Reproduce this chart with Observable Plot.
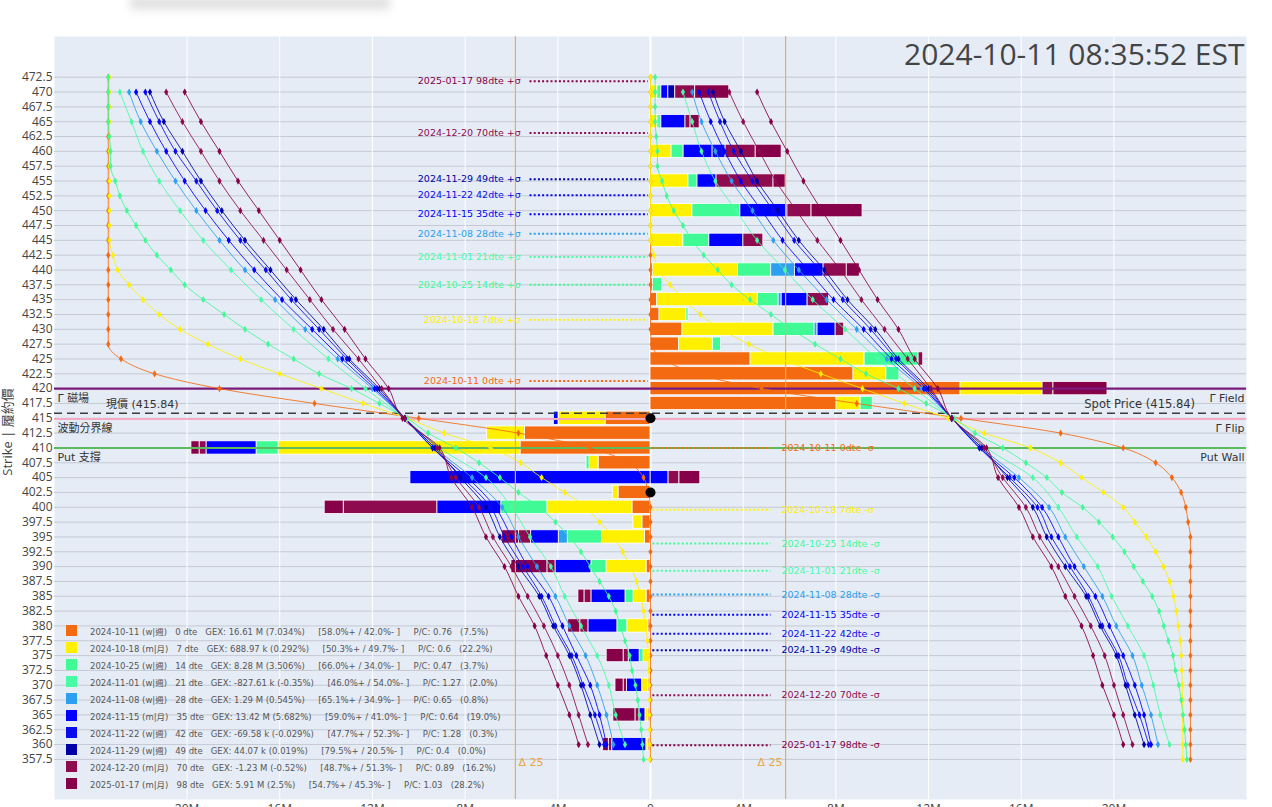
<!DOCTYPE html>
<html>
<head>
<meta charset="utf-8">
<script src="https://cdn.jsdelivr.net/npm/d3@7"></script>
<script src="https://cdn.jsdelivr.net/npm/@observablehq/plot@0.6"></script>
<style>
html, body { margin:0; padding:0; background:#fff; overflow:hidden; }
#wrap { position:relative; width:1272px; height:807px; overflow:hidden; }
#chart { position:absolute; left:0; top:0; }
#legend { position:absolute; left:66px; top:622px; font-family:"DejaVu Sans","Noto Sans CJK TC",sans-serif; font-size:8.5px; color:#555; }
#legend .row { height:17px; display:flex; align-items:center; white-space:pre; }
#legend .sw { width:11px; height:11px; margin-right:13px; flex:none; }
#ytitle { position:absolute; left:6px; top:432px; transform:translate(-50%,-50%) rotate(-90deg); font-family:"Open Sans","Noto Sans CJK TC",sans-serif; font-size:13px; color:#444; white-space:nowrap; }
#blur { position:absolute; left:130px; top:-3px; width:260px; height:12px; background:#b5b5b5; filter:blur(5px); opacity:.45; }
</style>
</head>
<body>
<div id="wrap">
  <div id="chart"></div>
  <div id="blur"></div>
  <div id="ytitle">Strike | 履約價</div>
  <div id="legend"></div>
</div>
<script>
// ---------- DATA ----------
const titleText = "2024-10-11 08:35:52 EST";
const expiryDates = ["2024-10-11","2024-10-18","2024-10-25","2024-11-01","2024-11-08","2024-11-15","2024-11-22","2024-11-29","2024-12-20","2025-01-17"];
const expiryDte = [0,7,14,21,28,35,42,49,70,98];
const expiryType = ["w|週","m|月","w|週","w|週","w|週","m|月","w|週","w|週","m|月","m|月"];
const expiryColors = ["#F46A10","#FFF000","#40FA96","#48FCA6","#2C9FF0","#0000FF","#0A0AEE","#0000A8","#8E0B50","#86004A"];
const legendGex = ["16.61 M (7.034%)","688.97 k (0.292%)","8.28 M (3.506%)","-827.61 k (-0.35%)","1.29 M (0.545%)","13.42 M (5.682%)","-69.58 k (-0.029%)","44.07 k (0.019%)","-1.23 M (-0.52%)","5.91 M (2.5%)"];
const legendSplit = ["[58.0%+ / 42.0%- ]","[50.3%+ / 49.7%- ]","[66.0%+ / 34.0%- ]","[46.0%+ / 54.0%- ]","[65.1%+ / 34.9%- ]","[59.0%+ / 41.0%- ]","[47.7%+ / 52.3%- ]","[79.5%+ / 20.5%- ]","[48.7%+ / 51.3%- ]","[54.7%+ / 45.3%- ]"];
const legendPC = ["0.76","0.6","0.47","1.27","0.65","0.64","1.28","0.4","0.89","1.03"];
const legendShare = ["(7.5%)","(22.2%)","(3.7%)","(2.0%)","(0.8%)","(19.0%)","(0.3%)","(0.0%)","(16.2%)","(28.2%)"];

const strikeTicks = [472.5,470,467.5,465,462.5,460,457.5,455,452.5,450,447.5,445,442.5,440,437.5,435,432.5,430,427.5,425,422.5,420,417.5,415,412.5,410,407.5,405,402.5,400,397.5,395,392.5,390,387.5,385,382.5,380,377.5,375,372.5,370,367.5,365,362.5,360,357.5];
const xTicks = [-20,-16,-12,-8,-4,0,4,8,12,16,20]; // millions

// key levels
const gammaField = 420;
const spotPrice = 415.84;
const gammaFlip = 414.9;
const putWall = 410;
const delta25 = [-5.83, 5.83];
const markerStrikes = [415, 402.5];

// GEX bars per strike (millions) : calls (+) and puts (-) for each expiry
const barStrikes = [470,465,460,455,450,445,440,437.5,435,432.5,430,427.5,425,422.5,420,417.5,415,412.5,410,407.5,405,402.5,400,397.5,395,390,385,380,375,370,365,360];
const call0  = [0,0,0,0,0,0,0.1,0.1,0.28,0.39,1.38,1.23,4.32,8.76,13.38,8.03, 0,0,0,0,0,0,0,0,0,0,0,0,0,0,0,0];
const call7  = [0.3,0.3,0.91,1.64,1.81,1.42,3.68,0,4.35,1.16,3.93,1.46,4.92,1.42,3.54,1.04, 0,0,0,0,0,0,0,0,0,0,0,0,0,0,0,0];
const call14 = [0.17,0,0.52,0.39,2.07,1.12,1.43,0.4,0.9,0.09,1.77,0.35,2.33,0.56,0,0.52, 0,0,0,0,0,0,0,0,0,0,0,0,0,0,0,0];
const call21 = [0,0.17,0,0,0,0,0,0,0,0,0,0,0,0,0,0, 0,0,0,0,0,0,0,0,0,0,0,0,0,0,0,0];
const call28 = [0,0,0,0,0,0,1.03,0,0.13,0,0.13,0,0,0,0,0, 0,0,0,0,0,0,0,0,0,0,0,0,0,0,0,0];
const call35 = [0.3,1.04,1.25,0.82,2.03,1.47,1.23,0,1.12,0,0.78,0,0,0,0,0, 0,0,0,0,0.78,0,0,0,0,0,0,0,0,0,0,0];
const call42 = [0,0,0.56,0,0,0,0,0,0,0,0,0,0,0,0,0, 0,0,0,0,0,0,0,0,0,0,0,0,0,0,0,0];
const call49 = [0.3,0,0,0,0,0,0,0,0,0,0,0,0,0,0,0, 0,0,0,0,0,0,0,0,0,0,0,0,0,0,0,0];
const call70 = [0.86,0.22,1.3,2.46,1.04,0.86,1.0,0,0.93,0,0.37,0,0.2,0,0.47,0, 0,0,0,0,0.47,0,0,0,0,0,0,0,0,0,0,0];
const call98 = [1.47,0.39,1.12,0.52,2.2,0,0.56,0,0,0,0,0,0,0,2.33,0, 0,0,0,0,0.9,0,0,0,0,0,0,0,0,0,0,0];
const put0  = [0,0,0,0,0,0,0,0,0,0,0,0,0,0,0,0, -1.94,-5.42,-5.61,-2.24,0,-1.38,-0.78,-0.35,-0.24,-0.17,-0.17,-0.09,-0.04,-0.09,-0.09,-0.09];
const put7  = [0,0,0,0,0,0,0,0,0,0,0,0,0,0,0,0, -2.03,-1.64,-10.44,-0.39,0,-0.24,-3.67,-0.39,-1.86,-1.73,-0.56,-0.91,-0.26,-0.27,-0.13,-0.09];
const put14 = [0,0,0,0,0,0,0,0,0,0,0,0,0,0,0,0, 0,0,-0.95,-0.13,0,0,-1.99,0,-1.47,-0.65,-0.35,-0.43,-0.17,0,0,0];
const put21 = [0,0,0,0,0,0,0,0,0,0,0,0,0,0,0,0, 0,0,0,0,0,0,0,0,0,0,0,0,0,0,0,0];
const put28 = [0,0,0,0,0,0,0,0,0,0,0,0,0,0,0,0, 0,0,0,0,0,0,0,0,-0.39,0,0,0,0,0,0,0];
const put35 = [0,0,0,0,0,0,0,0,0,0,0,0,0,0,0,0, -0.2,0,-2.16,0,-10.36,0,-2.76,0,-1.19,-1.55,-1.47,-1.25,-0.47,-0.65,-0.26,-1.47];
const put42 = [0,0,0,0,0,0,0,0,0,0,0,0,0,0,0,0, 0,0,0,0,0,0,0,0,0,0,0,0,0,0,0,0];
const put49 = [0,0,0,0,0,0,0,0,0,0,0,0,0,0,0,0, 0,0,0,0,0,0,0,0,0,0,0,0,0,0,0,0];
const put70 = [0,0,0,0,0,0,0,0,0,0,0,0,0,0,0,0, 0,0,-0.3,0,0,0,-4.04,0,-0.52,-0.35,-0.3,-0.35,-0.22,-0.15,-0.17,-0.15];
const put98 = [0,0,0,0,0,0,0,0,0,0,0,0,0,0,0,0, 0,0,-0.35,0,0,0,-0.82,0,-0.73,-1.55,-0.26,-0.52,-0.73,-0.35,-0.95,-0.24];

// exposure profile curves (millions) : left (put side) and right (call side)
const strikes25 = strikeTicks;
const strikes5 = [470,465,460,455,450,445,440,435,430,425,420,415,410,405,400,395,390,385,380,375,370,365,360];
const curve0L = [-23.4,-23.4,-23.4,-23.4,-23.4,-23.4,-23.4,-23.4,-23.4,-23.4, -23.4,-23.4,-23.4,-23.4,-23.4,-23.4,-23.4,-23.4,-23.4,-22.85, -21.4,-18.6,-14.5,-10.0,-5.7,-2.6,-0.95,-0.3,-0.1,0, 0,0,0,0,0,0,0,0,0,0, 0,0,0,0,0,0,0];
const curve0R = [0,0,0,0,0,0,0,0,0,0, 0,0,0,0,0,0,0,0,0.05,0.55, 2.0,4.8,8.9,13.4,17.7,20.4,21.8,22.5,22.9,23.1, 23.2,23.3,23.3,23.3,23.3,23.3,23.3,23.3,23.3,23.3, 23.3,23.3,23.3,23.3,23.3,23.3,23.3];
const curve7L = [-23.35,-23.35,-23.35,-23.35,-23.35,-23.35,-23.35,-23.35,-23.35,-23.35, -23.35,-23.35,-23.2,-23.0,-22.5,-21.9,-21.2,-20.3,-19.1,-17.7, -16.0,-14.2,-12.4,-10.5,-8.9,-6.9,-5.6,-4.7,-3.7,-2.8, -2.2,-1.6,-1.2,-0.86,-0.6,-0.43,-0.3,-0.22,-0.13,-0.09, -0.07,-0.05,-0.04,-0.04,-0.03,-0.03,-0.03];
const curve7R = [0,0,0,0,0,0,0,0,0,0, 0,0,0.15,0.35,0.85,1.45,2.15,3.05,4.25,5.65, 7.35,9.15,10.95,12.85,14.4,16.4,17.7,18.6,19.55,20.4, 20.9,21.4,21.8,22.14,22.4,22.57,22.7,22.78,22.87,22.91, 22.93,22.95,22.96,22.96,22.97,22.97,22.97];
const curve14L = [-23.4,-23.4,-23.4,-23.4,-23.35,-23.3,-23.3,-23.1,-22.9,-22.6, -22.2,-21.8,-21.3,-20.7,-20.1,-19.3,-18.4,-17.5,-16.5,-15.4, -14.3,-12.9,-11.7,-10.5,-9.6,-8.4,-7.4,-6.5,-5.7,-4.8, -4.1,-3.5,-3.0,-2.6,-2.2,-1.8,-1.5,-1.3,-1.1,-0.9, -0.8,-0.65,-0.55,-0.47,-0.4,-0.35,-0.3];
const curve14R = [0.2,0.2,0.2,0.2,0.25,0.3,0.3,0.5,0.7,1.0, 1.4,1.8,2.3,2.9,3.5,4.3,5.2,6.1,7.1,8.2, 9.3,10.7,11.9,13.1,14.0,15.2,16.2,17.1,17.75,18.65, 19.35,19.95,20.45,20.85,21.25,21.65,21.95,22.15,22.35,22.55, 22.65,22.8,22.9,22.98,23.05,23.1,23.15];
const curve21L = [-22.9,-22.4,-21.9,-21.2,-20.3,-19.3,-18.1,-16.8,-15.4,-13.9,-12.3,-10.6,-9.1,-7.1,-6.0,-5.2,-4.3,-3.7,-3.0,-2.3,-1.8,-1.5,-1.1];
const curve21R = [1.4,1.8,2.2,2.8,3.7,4.6,5.8,7.0,8.4,9.8,11.4,13.0,14.5,16.5,17.6,18.4,19.3,19.9,20.6,21.3,21.7,22.0,22.4];
const curve28L = [-22.5,-22.0,-21.3,-20.5,-19.6,-18.6,-17.5,-16.2,-14.9,-13.5,-12.0,-10.6,-9.3,-7.7,-6.4,-5.7,-4.9,-4.1,-3.5,-2.8,-2.3,-1.9,-1.6];
const curve28R = [1.8,2.2,2.8,3.5,4.4,5.3,6.4,7.6,8.9,10.2,11.7,13.0,14.3,15.9,17.2,17.9,18.7,19.5,20.1,20.8,21.2,21.6,21.9];
const curve35L = [-22.2,-21.6,-20.9,-20.1,-19.2,-18.2,-17.1,-15.9,-14.6,-13.3,-11.9,-10.6,-9.4,-7.9,-6.7,-6.0,-5.3,-4.4,-3.8,-3.2,-2.6,-2.2,-1.9];
const curve35R = [2.1,2.6,3.2,3.9,4.8,5.7,6.8,7.9,9.2,10.4,11.8,13.0,14.2,15.7,16.9,17.6,18.3,19.2,19.8,20.4,20.9,21.3,21.6];
const curve42L = [-21.8,-21.2,-20.5,-19.6,-18.7,-17.7,-16.6,-15.5,-14.3,-13.1,-11.8,-10.6,-9.4,-8.1,-6.9,-6.3,-5.5,-4.7,-4.1,-3.4,-2.9,-2.4,-2.0];
const curve42R = [2.5,3.0,3.6,4.4,5.3,6.2,7.3,8.3,9.5,10.6,11.9,13.0,14.2,15.5,16.7,17.3,18.1,18.9,19.5,20.2,20.6,21.1,21.5];
const curve49L = [-21.6,-21.0,-20.2,-19.4,-18.5,-17.5,-16.4,-15.3,-14.1,-13.0,-11.7,-10.6,-9.3,-8.2,-7.1,-6.5,-5.7,-4.8,-4.2,-3.5,-3.0,-2.6,-2.2];
const curve49R = [2.7,3.2,3.9,4.6,5.5,6.4,7.5,8.5,9.7,10.7,12.0,13.0,14.3,15.4,16.5,17.1,17.9,18.8,19.4,20.1,20.5,20.9,21.3];
const curve70L = [-20.9,-20.2,-19.4,-18.6,-17.7,-16.7,-15.7,-14.7,-13.7,-12.6,-11.6,-10.6,-9.2,-8.4,-7.4,-6.8,-6.0,-5.3,-4.6,-4.0,-3.5,-3.1,-2.7];
const curve70R = [3.4,4.0,4.7,5.4,6.3,7.2,8.2,9.1,10.1,11.1,12.1,13.0,14.4,15.2,16.2,16.8,17.6,18.3,19.0,19.6,20.0,20.4,20.8];
const curve98L = [-20.1,-19.4,-18.6,-17.8,-16.9,-16.0,-15.1,-14.2,-13.2,-12.3,-11.3,-10.7,-9.1,-8.6,-7.7,-7.1,-6.3,-5.7,-5.0,-4.5,-4.0,-3.5,-3.1];
const curve98R = [4.6,5.2,5.9,6.6,7.4,8.2,9.0,9.8,10.7,11.4,12.4,13.0,14.5,15.0,15.9,16.5,17.3,17.9,18.6,19.1,19.5,20.0,20.4];

// ±1σ expected-move strikes per expiry
const sigmaUp   = [421.3,431.6,437.5,442.2,446.1,449.4,452.6,455.3,463.1,471.8];
const sigmaDown = [410.0,399.6,393.9,389.3,385.3,381.9,378.7,375.9,368.3,359.9];

// ---------- BUILD ----------
const callGex = [call0,call7,call14,call21,call28,call35,call42,call49,call70,call98];
const putGex  = [put0,put7,put14,put21,put28,put35,put42,put49,put70,put98];
const curveL = [curve0L,curve7L,curve14L,curve21L,curve28L,curve35L,curve42L,curve49L,curve70L,curve98L];
const curveR = [curve0R,curve7R,curve14R,curve21R,curve28R,curve35R,curve42R,curve49R,curve70R,curve98R];
const idx = d3.range(expiryDates.length);
const halfBar = 1.12;

const segs = [];
barStrikes.forEach((s, i) => {
  let pos = 0, neg = 0;
  idx.forEach(k => {
    const c = callGex[k][i];
    if (c > 0) { segs.push({s, k, x1: pos, x2: pos + c}); pos += c; }
    const p = putGex[k][i];
    if (p < 0) { segs.push({s, k, x1: neg, x2: neg + p}); neg += p; }
  });
});

const curvePts = [];
idx.forEach(k => {
  const ss = curveL[k].length === strikes25.length ? strikes25 : strikes5;
  ss.forEach((s, i) => {
    curvePts.push({k, side: "L", s, x: curveL[k][i]});
    curvePts.push({k, side: "R", s, x: curveR[k][i]});
  });
});

const uiFont = "DejaVu Sans, Noto Sans CJK TC, sans-serif";
const col = k => expiryColors[k];

const chart = Plot.plot({
  width: 1272, height: 824,
  marginTop: 36, marginRight: 26, marginBottom: 25, marginLeft: 54,
  style: {fontFamily: "Open Sans, sans-serif", fontSize: "12px", color: "#444", background: "transparent"},
  x: {domain: [-25.72, 25.72]},
  y: {domain: [350.74, 479.36]},
  color: {type: "identity"},
  marks: [
    Plot.frame({fill: "#E5ECF6", stroke: "none"}),
    Plot.ruleY(strikeTicks, {stroke: "#c5c9d3", strokeWidth: 1}),
    Plot.ruleX(xTicks, {stroke: "#ffffff", strokeWidth: 1}),
    Plot.ruleX([0], {stroke: "#ffffff", strokeWidth: 2}),
    Plot.rect(segs, {x1: "x1", x2: "x2", y1: d => d.s - halfBar, y2: d => d.s + halfBar,
      fill: d => col(d.k), stroke: "#ffffff", strokeWidth: 0.8}),
    Plot.ruleX(delta25, {stroke: "#F2AE45", strokeWidth: 1.2}),
    Plot.ruleY([gammaFlip], {stroke: "#F5A9C2", strokeWidth: 2}),
    Plot.ruleY([putWall], {stroke: "#5DBB5D", strokeWidth: 2}),
    Plot.ruleY([gammaField], {stroke: "#7A1A7A", strokeWidth: 2.2}),
    Plot.ruleY([spotPrice], {stroke: "#3c3c3c", strokeWidth: 1.6, strokeDasharray: "8,5"}),
    Plot.line(curvePts, {x: "x", y: "s", z: d => d.k + d.side, stroke: d => col(d.k),
      strokeWidth: 1, strokeOpacity: 0.85, curve: "monotone-y"}),
    Plot.dot(curvePts, {x: "x", y: "s", fill: d => col(d.k), r: 2.2, symbol: "diamond"}),
    // sigma lines
    Plot.ruleY(idx, {y: k => sigmaUp[k], x1: -5.2, x2: -0.1, stroke: col, strokeWidth: 2, strokeDasharray: "2,2.2"}),
    Plot.ruleY(idx, {y: k => sigmaDown[k], x1: 0.1, x2: 5.2, stroke: col, strokeWidth: 2, strokeDasharray: "2,2.2"}),
    Plot.text(idx, {x: -5.6, y: k => sigmaUp[k], text: k => `${expiryDates[k]} ${expiryDte[k]}dte +σ`,
      textAnchor: "end", fill: col, fontSize: 9.5, fontFamily: uiFont}),
    Plot.text(idx, {x: 5.65, y: k => sigmaDown[k], text: k => `${expiryDates[k]} ${expiryDte[k]}dte -σ`,
      textAnchor: "start", fill: col, fontSize: 9.5, fontFamily: uiFont}),
    // markers on zero line
    Plot.dot(markerStrikes, {x: 0, y: d => d, r: 5, fill: "#000"}),
    // level labels
    Plot.text(["Γ 磁場"], {y: gammaField, frameAnchor: "left", dx: 3, dy: 10, textAnchor: "start", fontSize: 11, fill: "#333", fontFamily: uiFont}),
    Plot.text(["現價 (415.84)"], {x: -23.5, y: spotPrice, dy: -9, textAnchor: "start", fontSize: 11, fill: "#333", fontFamily: uiFont}),
    Plot.text(["波動分界線"], {y: gammaFlip, frameAnchor: "left", dx: 3, dy: 10, textAnchor: "start", fontSize: 11, fill: "#333", fontFamily: uiFont}),
    Plot.text(["Put 支撐"], {y: putWall, frameAnchor: "left", dx: 3, dy: 10, textAnchor: "start", fontSize: 11, fill: "#333", fontFamily: uiFont}),
    Plot.text(["Γ Field"], {y: gammaField, frameAnchor: "right", dx: -2, dy: 10, textAnchor: "end", fontSize: 11, fill: "#333", fontFamily: uiFont}),
    Plot.text(["Spot Price (415.84)"], {x: 23.5, y: spotPrice, dy: -9, textAnchor: "end", fontSize: 11.5, fill: "#333", fontFamily: uiFont}),
    Plot.text(["Γ Flip"], {y: gammaFlip, frameAnchor: "right", dx: -2, dy: 10, textAnchor: "end", fontSize: 11, fill: "#333", fontFamily: uiFont}),
    Plot.text(["Put Wall"], {y: putWall, frameAnchor: "right", dx: -2, dy: 10, textAnchor: "end", fontSize: 11, fill: "#333", fontFamily: uiFont}),
    Plot.text(["Δ 25"], {x: delta25[0], frameAnchor: "bottom", dx: 3, dy: -34, textAnchor: "start", fontSize: 11, fill: "#EDA53A", fontFamily: uiFont}),
    Plot.text(["Δ 25"], {x: delta25[1], frameAnchor: "bottom", dx: -3, dy: -34, textAnchor: "end", fontSize: 11, fill: "#EDA53A", fontFamily: uiFont}),
    Plot.text([titleText], {frameAnchor: "top-right", dx: -2, dy: 7, lineAnchor: "top", textAnchor: "end", fontSize: 30, fill: "#444", fontFamily: "Open Sans, sans-serif"}),
    Plot.axisX(xTicks, {tickSize: 0, tickPadding: 5, tickFormat: d => d === 0 ? "0" : Math.abs(d) + "M", label: null, fontSize: 12}),
    Plot.axisY(strikeTicks, {tickSize: 0, tickPadding: 2, tickFormat: d => Number.isInteger(d) ? String(d) : d.toFixed(1), label: null, fontSize: 12})
  ]
});
document.getElementById("chart").appendChild(chart);

// legend
const legend = document.getElementById("legend");
idx.forEach(k => {
  const row = document.createElement("div");
  row.className = "row";
  const sw = document.createElement("span");
  sw.className = "sw";
  sw.style.background = expiryColors[k];
  const tx = document.createElement("span");
  tx.textContent = `${expiryDates[k]} (${expiryType[k]})   ${expiryDte[k]} dte   GEX: ${legendGex[k]}     ${legendSplit[k]}     P/C: ${legendPC[k]}   ${legendShare[k]}`;
  row.appendChild(sw); row.appendChild(tx);
  legend.appendChild(row);
});
</script>
</body>
</html>
